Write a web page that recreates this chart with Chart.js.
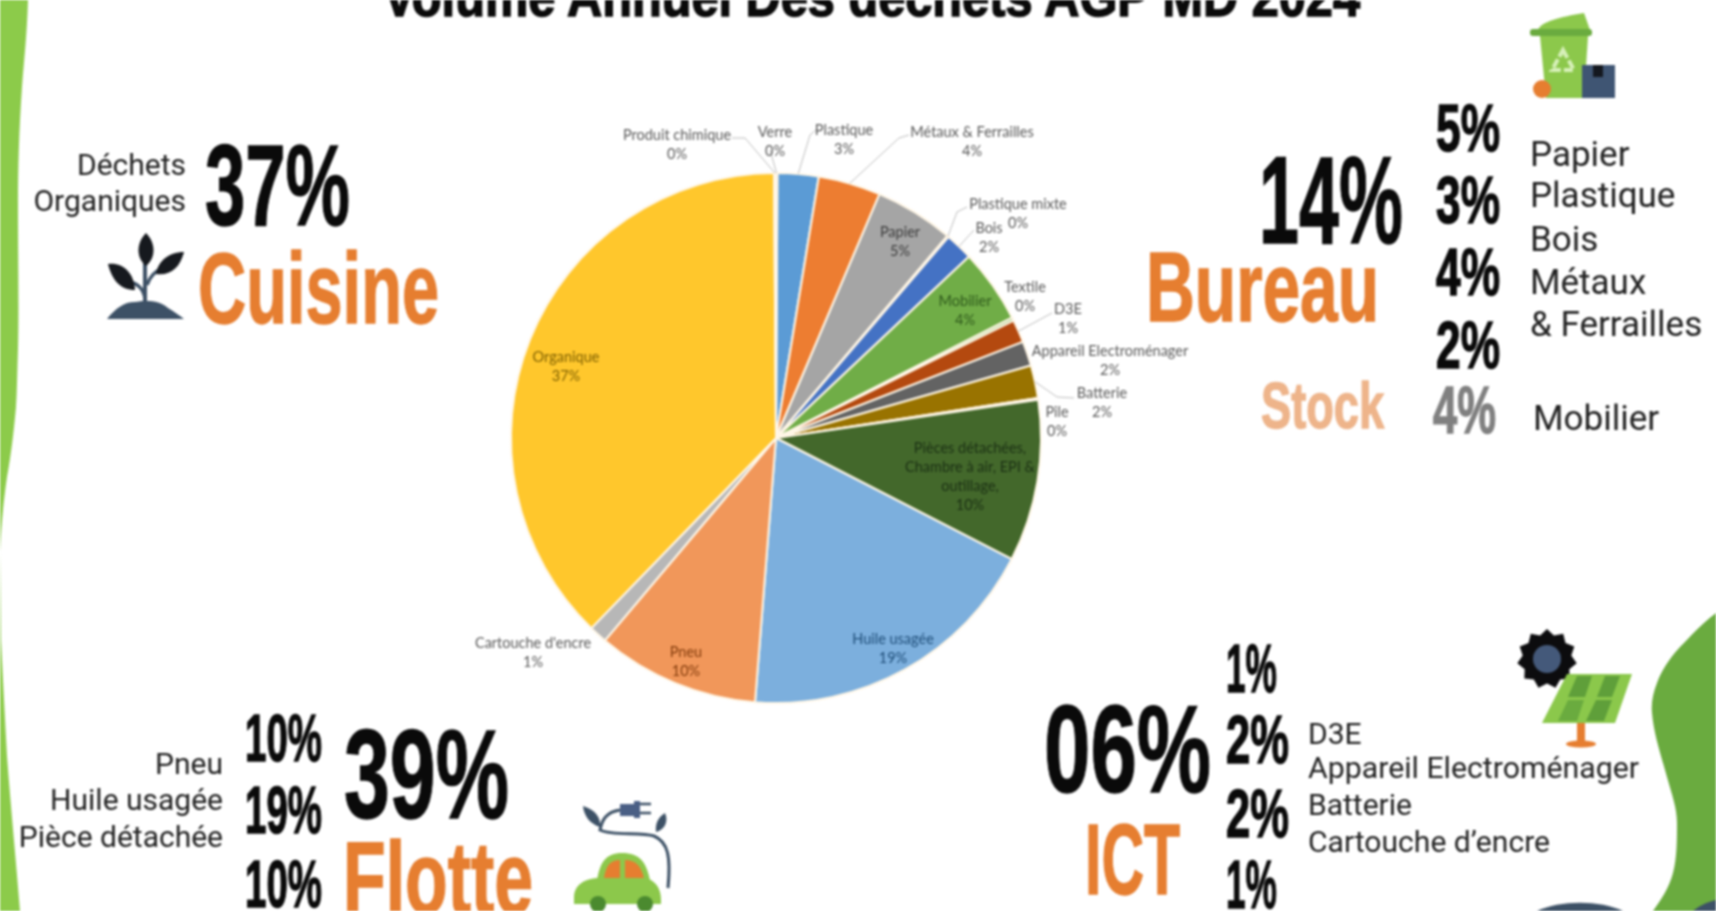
<!DOCTYPE html>
<html lang="fr"><head><meta charset="utf-8"><title>Volume Annuel Des déchets AGP MD 2024</title>
<script src="https://cdn.jsdelivr.net/npm/chart.js@4"></script>
<style>
html,body{margin:0;padding:0;background:#fff;width:1716px;height:911px;overflow:hidden}
#s{position:absolute;left:0;top:0;filter:blur(.8px)}
#c{position:absolute;left:0;top:0;filter:blur(.9px)}
.n{font-family:"Liberation Sans Narrow","Liberation Sans",sans-serif;font-weight:700;fill:#0a0a0a;stroke:#0a0a0a;stroke-width:1.4}
.o{fill:#e67e30;stroke:#e67e30}
.r{font-family:Roboto,sans-serif;fill:#222;font-size:30px}
.b{font-size:35px}
</style></head><body>
<svg id="s" width="1716" height="911" viewBox="0 0 1716 911" xmlns="http://www.w3.org/2000/svg">
<path d="M0,0 L28,0 C27,35 24,60 22,87 C19,130 18,170 18,203 C18,260 19,310 18,349 C17,380 17,395 16,407 C13,440 10,460 7,477 C3,505 1,530 0,552 L1,640 C3,680 5,720 7,756 C11,810 16,860 20,911 L0,911 Z" fill="#8ccb4a"/>
<path d="M1716,613 C1700,625 1690,637 1680,647 C1668,660 1661,672 1657,683 C1653,693 1651,703 1652,713 C1654,735 1661,755 1667,777 C1672,795 1677,808 1677,823 C1677,840 1677,858 1673,873 C1669,888 1661,900 1653,911 L1716,911 Z" fill="#6aab3f"/>
<path d="M1693,911 C1700,905 1708,902 1716,900 L1716,911 Z" fill="#3d5166"/>
<path d="M1537,911 C1560,900 1600,900 1623,911 Z" fill="#3d5166"/>

<text class="n" x="383" y="16" font-size="55" textLength="977" lengthAdjust="spacingAndGlyphs" style="stroke-width:1.5">Volume Annuel Des déchets AGP MD 2024</text>

<text class="r" x="186" y="175" text-anchor="end">Déchets</text>
<text class="r" x="186" y="211" text-anchor="end">Organiques</text>
<text class="n" x="205" y="225" font-size="115" textLength="145" lengthAdjust="spacingAndGlyphs">37%</text>
<text class="n o" x="198" y="323" font-size="101" textLength="241" lengthAdjust="spacingAndGlyphs">Cuisine</text>

<text class="n" x="1259" y="243" font-size="125" textLength="144" lengthAdjust="spacingAndGlyphs">14%</text>
<text class="n o" x="1146" y="321" font-size="98" textLength="233" lengthAdjust="spacingAndGlyphs">Bureau</text>
<text class="n o" x="1261" y="428" font-size="64" textLength="123" lengthAdjust="spacingAndGlyphs" style="fill:#eeb48a;stroke:#eeb48a">Stock</text>
<text class="n" x="1436" y="151" font-size="67" textLength="64" lengthAdjust="spacingAndGlyphs">5%</text>
<text class="n" x="1436" y="223" font-size="67" textLength="64" lengthAdjust="spacingAndGlyphs">3%</text>
<text class="n" x="1436" y="295" font-size="67" textLength="64" lengthAdjust="spacingAndGlyphs">4%</text>
<text class="n" x="1436" y="368" font-size="67" textLength="64" lengthAdjust="spacingAndGlyphs">2%</text>
<text class="n" x="1433" y="433" font-size="67" textLength="63" lengthAdjust="spacingAndGlyphs" style="fill:#808080;stroke:#808080">4%</text>
<text class="r b" x="1530" y="166">Papier</text>
<text class="r b" x="1530" y="207">Plastique</text>
<text class="r b" x="1530" y="251">Bois</text>
<text class="r b" x="1530" y="294">Métaux</text>
<text class="r b" x="1530" y="336">&amp; Ferrailles</text>
<text class="r b" x="1533" y="430">Mobilier</text>

<text class="r" x="223" y="774" text-anchor="end">Pneu</text>
<text class="r" x="223" y="810" text-anchor="end">Huile usagée</text>
<text class="r" x="223" y="847" text-anchor="end">Pièce détachée</text>
<text class="n" x="245" y="761" font-size="67" textLength="77" lengthAdjust="spacingAndGlyphs">10%</text>
<text class="n" x="245" y="833" font-size="67" textLength="77" lengthAdjust="spacingAndGlyphs">19%</text>
<text class="n" x="245" y="907" font-size="67" textLength="77" lengthAdjust="spacingAndGlyphs">10%</text>
<text class="n" x="344" y="818" font-size="126" textLength="165" lengthAdjust="spacingAndGlyphs">39%</text>
<text class="n o" x="343" y="913" font-size="102" textLength="190" lengthAdjust="spacingAndGlyphs">Flotte</text>

<text class="n" x="1044" y="792" font-size="125" textLength="167" lengthAdjust="spacingAndGlyphs">06%</text>
<text class="n o" x="1085" y="894" font-size="100" textLength="95" lengthAdjust="spacingAndGlyphs">ICT</text>
<text class="n" x="1226" y="692" font-size="68" textLength="51" lengthAdjust="spacingAndGlyphs">1%</text>
<text class="n" x="1226" y="763" font-size="68" textLength="63" lengthAdjust="spacingAndGlyphs">2%</text>
<text class="n" x="1226" y="837" font-size="68" textLength="63" lengthAdjust="spacingAndGlyphs">2%</text>
<text class="n" x="1226" y="908" font-size="68" textLength="51" lengthAdjust="spacingAndGlyphs">1%</text>
<text class="r" x="1308" y="744">D3E</text>
<text class="r" x="1308" y="778" textLength="331" lengthAdjust="spacingAndGlyphs">Appareil Electroménager</text>
<text class="r" x="1308" y="815">Batterie</text>
<text class="r" x="1308" y="852" textLength="242" lengthAdjust="spacingAndGlyphs">Cartouche d’encre</text>

<!-- plant icon -->
<g>
<path d="M145,306 L145,262" stroke="#3d5166" stroke-width="4" fill="none"/>
<path d="M145,298 C143,288 138,284 130,282 M147,285 C150,276 155,272 162,268" stroke="#3d5166" stroke-width="3.5" fill="none"/>
<path d="M146,233 C156,243 156,258 146,266 C136,258 136,243 146,233 Z" fill="#16191e"/>
<path d="M108,264 C122,262 134,272 135,290 C120,290 112,280 108,264 Z" fill="#16191e"/>
<path d="M184,252 C170,252 158,260 156,274 C170,276 180,268 184,252 Z" fill="#16191e"/>
<path d="M107,319 C116,308 124,302 135,302 C145,300 160,300 168,308 C175,312 180,316 184,319 Z" fill="#3d5166"/>
</g>
<!-- bin icon -->
<g>
<path d="M1538,30 C1540,22 1560,17 1584,13 L1590,30 Z" fill="#8cc84b"/>
<rect x="1530" y="29" width="62" height="7" rx="3" fill="#6aab3f"/>
<path d="M1540,36 L1588,36 L1584,98 L1546,98 Z" fill="#8cc84b"/>
<path d="M1563,50 L1574,70 L1552,70 Z" fill="none" stroke="#d7f0b9" stroke-width="4" stroke-dasharray="9 3"/>
<circle cx="1542" cy="89" r="9" fill="#e67e30"/>
<rect x="1582" y="65" width="33" height="33" fill="#3f5573"/>
<rect x="1593" y="65" width="10" height="12" fill="#14181f"/>
</g>
<!-- car icon -->
<g>
<path d="M620,810 C606,812 602,820 600,830 C612,836 640,832 654,836 C668,842 671,856 668,888" fill="none" stroke="#3d5166" stroke-width="3"/>
<path d="M620,804 L634,804 L634,801 L640,801 L640,818 L634,818 L634,816 L620,816 Z" fill="#4a5f85"/>
<path d="M640,804 L651,804 M640,813 L651,813" stroke="#3d5166" stroke-width="2.5"/>
<path d="M583,806 C596,810 601,818 600,827 C590,824 584,816 583,806 Z" fill="#3d5166"/>
<path d="M665,813 C669,822 664,830 656,832 C655,824 658,817 665,813 Z" fill="#3d5166"/>
<path d="M597,880 C600,862 606,853 622,853 C640,853 646,862 650,880 Z" fill="#8cc84b"/>
<path d="M604,878 C606,866 610,860 620,860 L620,878 Z M625,860 C636,860 641,866 644,878 L625,878 Z" fill="#e67e30"/>
<path d="M574,897 C574,885 585,878 600,878 L645,878 C655,880 661,888 661,900 L661,904 L574,904 Z" fill="#8cc84b"/>
<circle cx="598" cy="904" r="8" fill="#4b8a2f"/><circle cx="645" cy="904" r="8" fill="#4b8a2f"/>
</g>
<!-- solar icon -->
<g>
<polygon id="gear" fill="#0c0c0e"/>
<circle cx="1547" cy="659" r="14" fill="#44597a"/>
<polygon points="1567,674 1632,674 1615,723 1542,723" fill="#8bc84b"/>
<polygon points="1577,676 1592,676 1585,697 1568,697" fill="#5f9f3a"/>
<polygon points="1605,676 1620,676 1612,697 1597,697" fill="#5f9f3a"/>
<polygon points="1568,700 1584,700 1577,721 1558,721" fill="#6aab3f"/>
<polygon points="1596,700 1612,700 1604,721 1586,721" fill="#5f9f3a"/>
<rect x="1577" y="723" width="8" height="20" fill="#e67e30"/>
<ellipse cx="1581" cy="744" rx="15" ry="3.5" fill="#e67e30"/>
</g>
</svg>
<canvas id="c" width="1716" height="911"></canvas>
<script>
const categories=["Plastique","Métaux & Ferrailles","Papier","Plastique mixte","Bois","Mobilier","Textile","D3E","Appareil Electroménager","Batterie","Pile","Pièces détachées, Chambre à air, EPI & outillage,","Huile usagée","Pneu","Cartouche d'encre","Organique","Produit chimique","Verre"];
const sliceValues=[2.5,3.8,4.8,0.1,1.7,4.5,0.2,1.4,1.5,2.0,0.1,9.85,18.7,9.9,1.1,37.6,0.1,0.1];
const percentLabels=["3%","4%","5%","0%","2%","4%","0%","1%","2%","2%","0%","10%","19%","10%","1%","37%","0%","0%"];
const sliceColors=["#5b9bd5","#ed7d31","#a5a5a5","#ffc000","#4472c4","#70ad47","#a9d18e","#b4490f","#636363","#997300","#ffe699","#43682b","#7cafdd","#f1975a","#b7b7b7","#ffc72c","#dddddd","#cfcfcf"];
const labelLines=[["Plastique"],["Métaux & Ferrailles"],["Papier"],["Plastique mixte"],["Bois"],["Mobilier"],["Textile"],["D3E"],["Appareil Electroménager"],["Batterie"],["Pile"],["Pièces détachées,","Chambre à air, EPI &","outillage,"],["Huile usagée"],["Pneu"],["Cartouche d'encre"],["Organique"],["Produit chimique"],["Verre"]];
const labelAt=[[844,130],[972,132],[900,232],[1018,204],[989,228],[965,301],[1025,287],[1068,309],[1110,351],[1102,393],[1057,412],[970,448],[893,639],[686,652],[533,643],[566,357],[677,135],[775,132]];
const labelInk=["#595959","#595959","#3b3b3b","#595959","#595959","#2f5a1c","#595959","#595959","#595959","#595959","#595959","#1b3014","#1f4e79","#843c0c","#595959","#7f6000","#595959","#595959"];
const leaders={0:[[817,129],[810,135]],1:[[909,135],[899,138]],3:[[967,207],[957,212]],4:[[974,230]],7:[[1052,313]],9:[[1074,398],[1057,397]],16:[[732,138],[745,138]],17:[[770,150]]};

// leader lines and text labels placed with the arcs
const pieLabels={id:'pieLabels',afterDatasetsDraw(chart){
  const ctx=chart.ctx, arcs=chart.getDatasetMeta(0).data;
  ctx.save();
  ctx.strokeStyle='#bdbdbd';ctx.lineWidth=1;
  Object.keys(leaders).forEach(k=>{
    const a=arcs[k].getProps(['x','y','startAngle','endAngle','outerRadius'],true);
    const m=(a.startAngle+a.endAngle)/2;
    ctx.beginPath();
    const pts=leaders[k];
    ctx.moveTo(pts[0][0],pts[0][1]);
    pts.slice(1).forEach(p=>ctx.lineTo(p[0],p[1]));
    ctx.lineTo(a.x+Math.cos(m)*a.outerRadius,a.y+Math.sin(m)*a.outerRadius);
    ctx.stroke();
  });
  ctx.font='14.5px Lato, sans-serif';ctx.textAlign='center';ctx.textBaseline='middle';
  labelLines.forEach((lines,i)=>{
    ctx.fillStyle=labelInk[i];
    const [x,y]=labelAt[i];
    lines.concat(percentLabels[i]).forEach((t,j)=>ctx.fillText(t,x,y+j*19));
  });
  ctx.restore();
}};

new Chart(document.getElementById('c'),{
  type:'pie',
  data:{labels:categories,datasets:[{data:sliceValues,backgroundColor:sliceColors,borderColor:'#fff6e6',borderWidth:2}]},
  options:{responsive:false,animation:false,rotation:0.3,
    layout:{padding:{left:510,right:674,top:172,bottom:207}},
    plugins:{legend:{display:false},title:{display:false},tooltip:{enabled:false}}},
  plugins:[pieLabels]
});

// sun icon outline
(function(){
  const pts=[];const cx=1547,cy=659,n=11;
  for(let i=0;i<n*2;i++){const r=i%2?24.5:30,t=i*Math.PI/n-Math.PI/2;pts.push((cx+r*Math.cos(t)).toFixed(1)+','+(cy+r*Math.sin(t)).toFixed(1));}
  document.getElementById('gear').setAttribute('points',pts.join(' '));
})();
</script>
</body></html>
